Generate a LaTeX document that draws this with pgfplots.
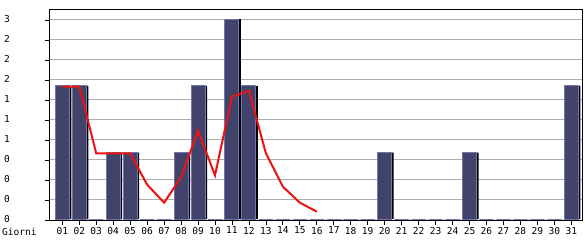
\documentclass[border=0pt]{standalone}
\usepackage{fontspec}
\setmainfont{DejaVu Sans Mono}
\usepackage{pgfplots}
\pgfplotsset{compat=1.18}
\definecolor{barfill}{HTML}{42436A}
\definecolor{barborder}{HTML}{7474AC}
\definecolor{gridgray}{HTML}{ADADAD}
\definecolor{linered}{HTML}{EE1111}
\begin{document}
\begin{tikzpicture}
\begin{axis}[
  at={(0,0)}, anchor=south west,
  scale only axis,
  width=532bp, height=210bp,
  xmin=0.275, xmax=31.63,
  ymin=0, ymax=3.15,
  xtick={1,...,31},
  xticklabels={01,02,03,04,05,06,07,08,09,10,11,12,13,14,15,16,17,18,19,20,21,22,23,24,25,26,27,28,29,30,31},
  ytick={0,0.3,0.6,0.9,1.2,1.5,1.8,2.1,2.4,2.7,3.0},
  yticklabels={0,0,0,0,1,1,1,2,2,2,3},
  tick pos=left,
  tick align=outside,
  major tick length=4.5bp,
  tick style={black, line width=0.8bp},
  ymajorgrids,
  grid style={gridgray, line width=1bp},
  axis line style={black, line width=1bp},
  ticklabel style={font=\fontsize{9.6}{10}\selectfont},
  xticklabel style={yshift=1bp},
  yticklabel style={anchor=west, xshift=-45bp, yshift=1bp},
]
\addplot[ybar, bar width=14bp, bar shift=2bp, fill=black, draw=none, yshift=0.8bp] coordinates {
(1,2) (2,2) (3,0) (4,1) (5,1) (6,0) (7,0) (8,1) (9,2) (10,0)
(11,3) (12,2) (13,0) (14,0) (15,0) (16,0) (17,0) (18,0) (19,0) (20,1)
(21,0) (22,0) (23,0) (24,0) (25,1) (26,0) (27,0) (28,0) (29,0) (30,0) (31,2)};
\addplot[ybar, bar width=14bp, bar shift=0bp, fill=barfill, draw=barborder, line width=1bp, yshift=0.8bp] coordinates {
(1,2) (2,2) (3,0) (4,1) (5,1) (6,0) (7,0) (8,1) (9,2) (10,0)
(11,3) (12,2) (13,0) (14,0) (15,0) (16,0) (17,0) (18,0) (19,0) (20,1)
(21,0) (22,0) (23,0) (24,0) (25,1) (26,0) (27,0) (28,0) (29,0) (30,0) (31,2)};
\addplot[linered, line width=2bp, mark=none] coordinates {
(1,2.0) (2,2.0) (3,1.0) (4,1.0) (5,1.0) (6,0.53) (7,0.26) (8,0.64)
(9,1.34) (10,0.67) (11,1.85) (12,1.94) (13,1.0) (14,0.5) (15,0.26) (16,0.125)};
\end{axis}
\node[anchor=west, inner sep=0pt, font=\fontsize{9.6}{10}\selectfont] at (-48bp,-12bp) {Giorni};
\pgfresetboundingbox
\useasboundingbox (-50bp,-20bp) rectangle (535bp,220bp);
\end{tikzpicture}
\end{document}
